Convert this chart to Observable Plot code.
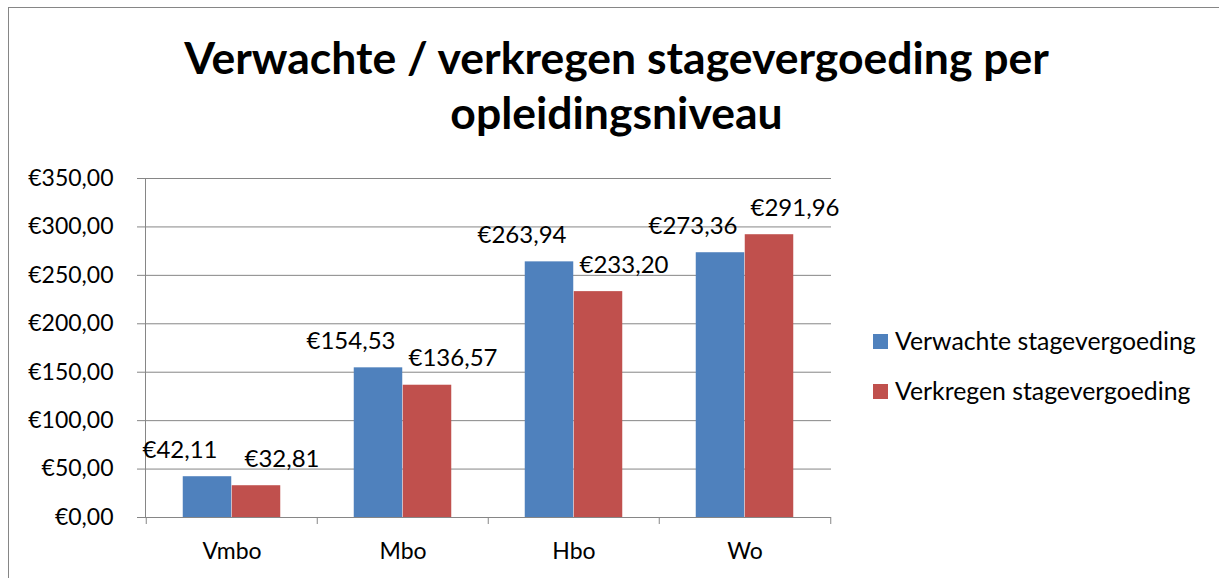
<!DOCTYPE html>
<html><head><meta charset="utf-8">
<script src="https://cdn.jsdelivr.net/npm/d3@7"></script>
<script src="https://cdn.jsdelivr.net/npm/@observablehq/plot@0.6"></script>
<style>
html,body{margin:0;padding:0;background:#fff;overflow:hidden;width:1219px;height:578px;}
body{font-family:Lato,"Open Sans",sans-serif;color:#000;}
#border{position:absolute;left:8px;top:7px;width:1300px;height:700px;border-left:1px solid #868686;border-top:1px solid #868686;}
#title{position:absolute;left:0;top:29px;width:1233px;text-align:center;font-weight:bold;font-size:44.5px;line-height:55px;}
#chart{position:absolute;left:0;top:150px;}
.sw{position:absolute;width:15px;height:15px;}
.lt{position:absolute;font-size:24.8px;line-height:30px;white-space:nowrap;}
</style></head>
<body>
<div id="border"></div>
<div id="title">Verwachte / verkregen stagevergoeding per<br>opleidingsniveau</div>
<div id="chart"></div>
<div id="legend"></div>
<script>
const categories = ["Vmbo", "Mbo", "Hbo", "Wo"];
const verwacht = [42.11, 154.53, 263.94, 273.36];
const verkregen = [32.81, 136.57, 233.20, 291.96];
const seriesNames = ["Verwachte stagevergoeding", "Verkregen stagevergoeding"];
const seriesColors = ["#4F81BD", "#C0504D"];
const yTicks = [0, 50, 100, 150, 200, 250, 300, 350];

const rows = categories.flatMap((c, i) => [
  {cat: c, series: seriesNames[0], value: verwacht[i]},
  {cat: c, series: seriesNames[1], value: verkregen[i]}
]);
const fmt = v => "€" + v.toFixed(2).replace(".", ",");
const gray = "#868686";
const band = (1219 - 145 - 388) / categories.length; // px per category
const barW = 49;
const outer = (band - 2 * barW) / 2;

const plot = Plot.plot({
  width: 1219,
  height: 428,
  marginLeft: 145,
  marginRight: 388,
  marginTop: 28,
  marginBottom: 61,
  style: {fontFamily: "Lato, 'Open Sans', sans-serif", fontSize: "23px", color: "#000", background: "transparent", overflow: "visible"},
  x: {domain: categories, padding: 0, axis: null, label: null},
  y: {domain: [0, 350], axis: null, label: null},
  marks: [
    Plot.gridY(yTicks, {stroke: gray, strokeOpacity: 1, strokeWidth: 1}),
    Plot.axisY(yTicks, {tickSize: 8, tickPadding: 24, tickFormat: fmt, stroke: gray, strokeOpacity: 1, fill: "#000", fontSize: 23, label: null}),
    Plot.barY(rows.filter(d => d.series === seriesNames[0]), {x: "cat", y: "value", fill: seriesColors[0], insetLeft: outer, insetRight: outer + barW}),
    Plot.barY(rows.filter(d => d.series === seriesNames[1]), {x: "cat", y: "value", fill: seriesColors[1], insetLeft: outer + barW, insetRight: outer}),
    Plot.ruleY([0], {stroke: gray, strokeWidth: 1}),
    Plot.frame({anchor: "left", stroke: gray, strokeWidth: 1}),
    Plot.axisX(categories, {tickSize: 7, tickFormat: () => "", stroke: gray, strokeOpacity: 1, dx: -band / 2, label: null}),
    Plot.axisX([categories[categories.length - 1]], {tickSize: 7, tickFormat: () => "", stroke: gray, strokeOpacity: 1, dx: band / 2, label: null}),
    Plot.axisX(categories, {tickSize: 0, tickPadding: 25, fill: "#000", fontSize: 23, label: null}),
    Plot.text(rows.filter(d => d.series === seriesNames[0]), {x: "cat", y: "value", text: d => fmt(d.value), dx: -52, dy: -19, lineAnchor: "bottom", fill: "#000", fontSize: 24}),
    Plot.text(rows.filter(d => d.series === seriesNames[1]), {x: "cat", y: "value", text: d => fmt(d.value), dx: 50, dy: -19, lineAnchor: "bottom", fill: "#000", fontSize: 24})
  ]
});
document.getElementById("chart").appendChild(plot);

const legend = document.getElementById("legend");
seriesNames.forEach((name, i) => {
  const sw = document.createElement("div");
  sw.className = "sw";
  sw.style.left = "873px";
  sw.style.top = (334 + i * 50) + "px";
  sw.style.background = seriesColors[i];
  legend.appendChild(sw);
  const t = document.createElement("div");
  t.className = "lt";
  t.style.left = "895px";
  t.style.top = (326 + i * 50) + "px";
  t.textContent = name;
  legend.appendChild(t);
});
</script>
</body></html>
